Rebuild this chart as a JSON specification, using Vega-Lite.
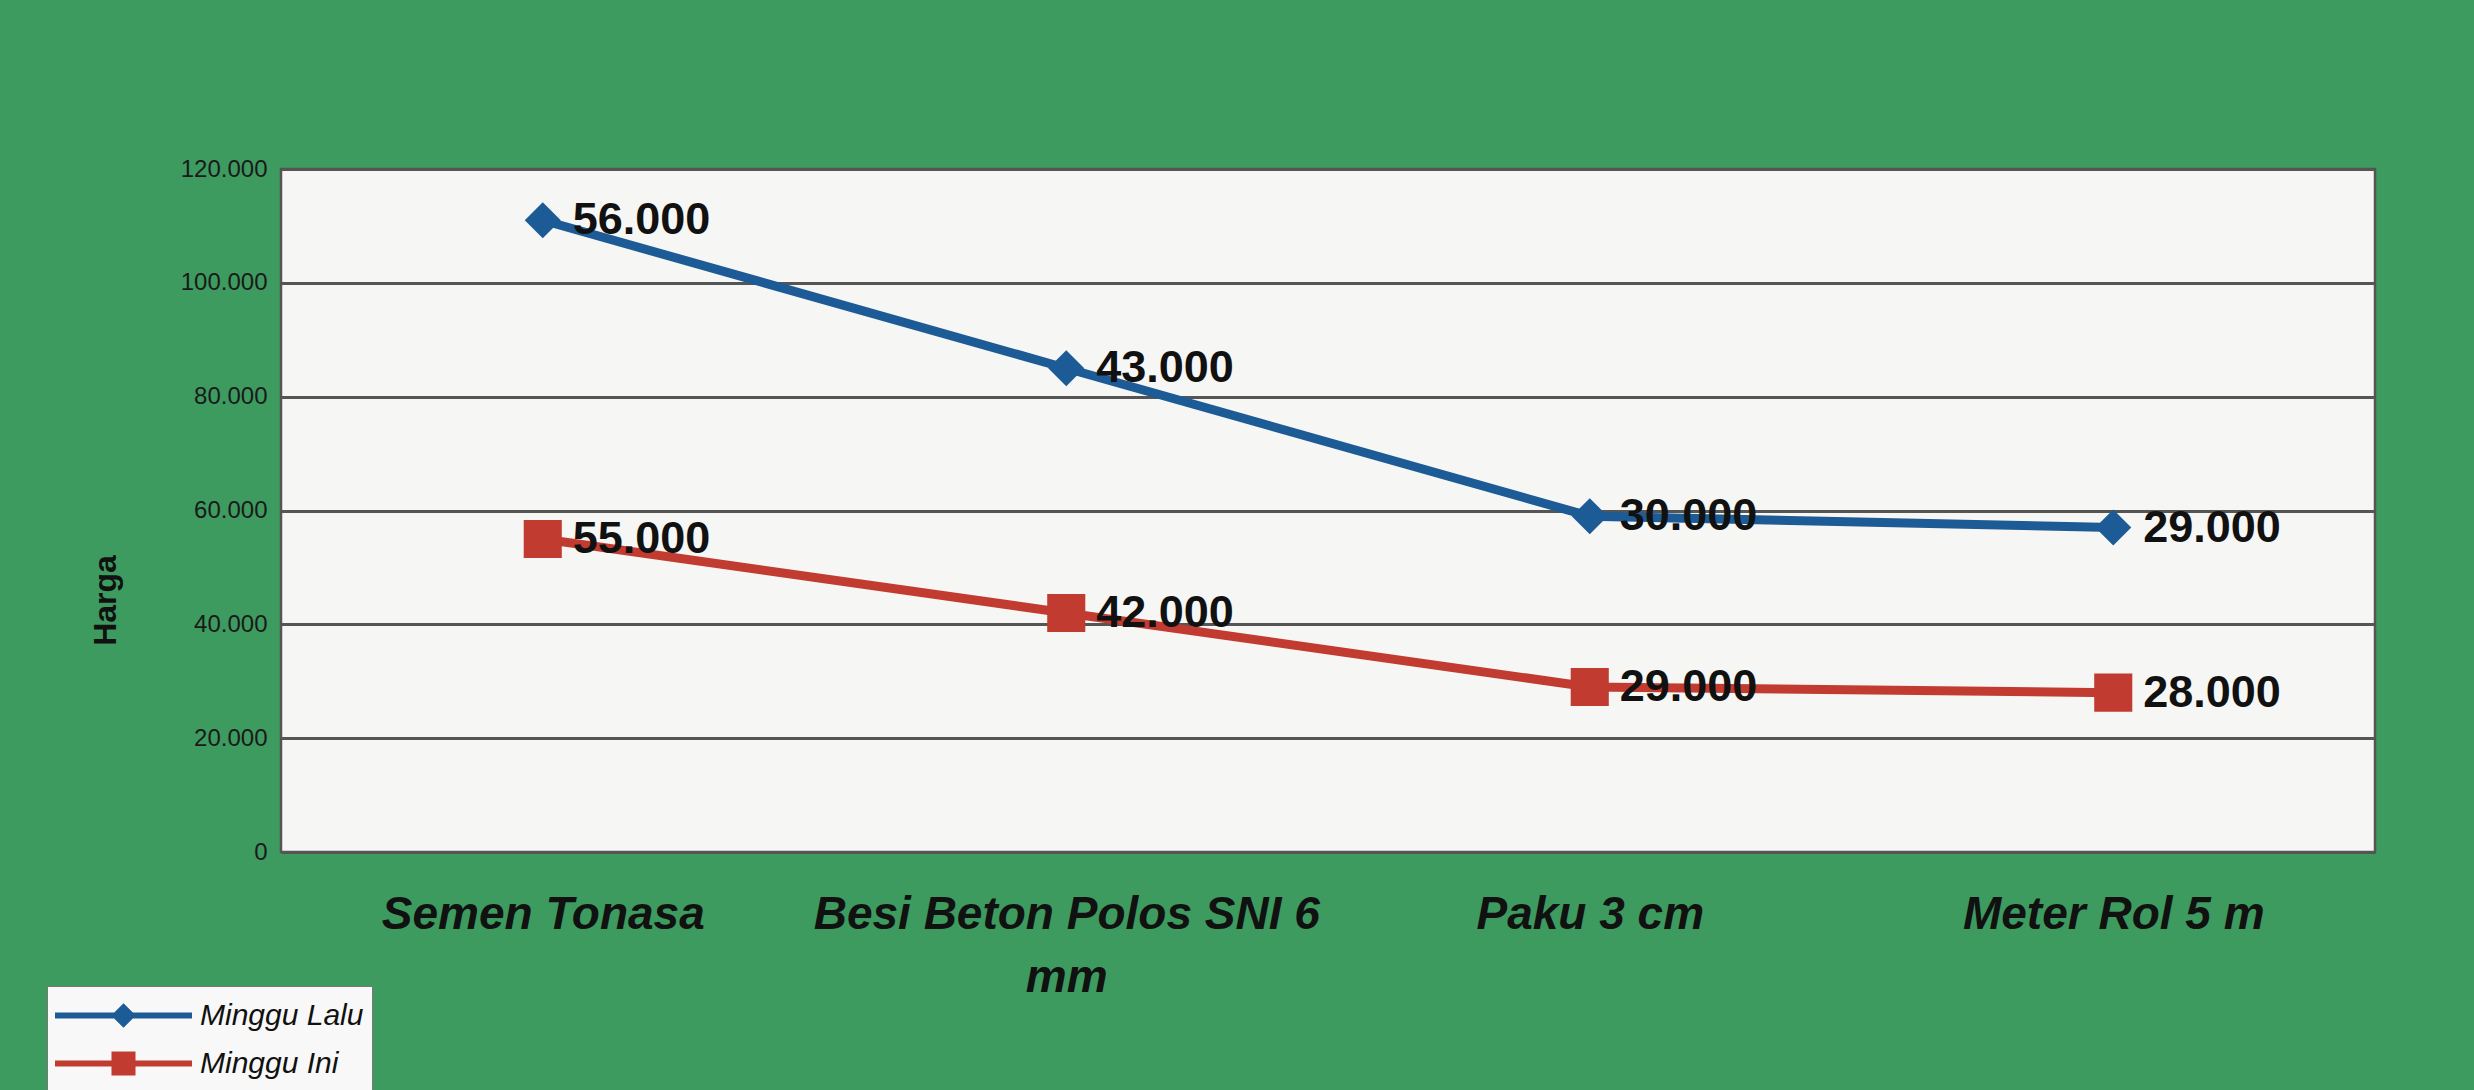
{
  "$schema": "https://vega.github.io/schema/vega-lite/v6.json",
  "width": 2094,
  "height": 683,
  "autosize": {"type": "none"},
  "padding": {"left": 281, "top": 169, "right": 99, "bottom": 238},
  "background": "#3d9b60",
  "config": {
    "locale": {"number": {"decimal": ",", "thousands": ".", "grouping": [3], "currency": ["Rp", ""]}},
    "view": {"fill": "#f6f6f4", "stroke": "#555555", "strokeWidth": 2.5},
    "font": "Liberation Sans"
  },
  "data": {
    "values": [
      {"item": "Semen Tonasa", "series": "Minggu Lalu", "value": 56000},
      {"item": "Semen Tonasa", "series": "Minggu Ini", "value": 55000},
      {"item": "Besi Beton Polos  SNI 6 mm", "series": "Minggu Lalu", "value": 43000},
      {"item": "Besi Beton Polos  SNI 6 mm", "series": "Minggu Ini", "value": 42000},
      {"item": "Paku 3 cm", "series": "Minggu Lalu", "value": 30000},
      {"item": "Paku 3 cm", "series": "Minggu Ini", "value": 29000},
      {"item": "Meter Rol 5 m", "series": "Minggu Lalu", "value": 29000},
      {"item": "Meter Rol 5 m", "series": "Minggu Ini", "value": 28000}
    ]
  },
  "transform": [
    {"stack": "value", "groupby": ["item"], "sort": [{"field": "series", "order": "ascending"}], "as": ["y0", "y1"]}
  ],
  "encoding": {
    "x": {
      "field": "item", "type": "nominal", "sort": null,
      "scale": {"type": "point", "padding": 0.5},
      "axis": {
        "title": null, "ticks": false, "domain": false, "grid": false,
        "labelAngle": 0, "labelFontSize": 46, "labelFontWeight": "bold", "labelFontStyle": "italic",
        "labelColor": "#111", "labelPadding": 40, "labelLineHeight": 63, "labelLimit": 1000, "labelOverlap": false,
        "labelExpr": "datum.value == 'Besi Beton Polos  SNI 6 mm' ? ['Besi Beton Polos  SNI 6', 'mm'] : datum.value"
      }
    },
    "y": {
      "field": "y1", "type": "quantitative",
      "scale": {"domain": [0, 120000], "nice": false},
      "axis": {
        "values": [0, 20000, 40000, 60000, 80000, 100000, 120000],
        "grid": true, "gridColor": "#555555", "gridWidth": 3,
        "ticks": false, "domain": false,
        "labelFontSize": 24, "labelColor": "#1a1a1a", "labelPadding": 14,
        "title": "Harga", "titleFontSize": 32, "titleFontWeight": "bold", "titleColor": "#111",
        "titleX": -159, "titleY": 431
      }
    },
    "color": {
      "field": "series", "type": "nominal",
      "scale": {"domain": ["Minggu Lalu", "Minggu Ini"], "range": ["#1c5b96", "#c23b30"]},
      "legend": {
        "orient": "none", "legendX": -234, "legendY": 817, "title": null,
        "fillColor": "#f8f8f8", "strokeColor": "#777", "padding": 8,
        "labelFont": "Liberation Sans", "labelFontStyle": "italic", "labelFontSize": 30, "labelColor": "#111",
        "labelLimit": 500,
        "symbolSize": 1300, "symbolOffset": 47, "labelOffset": 55, "rowPadding": 6,
        "encode": {
          "symbols": {
            "update": {
              "shape": {"signal": "datum.value == 'Minggu Lalu' ? 'M-3.8,0H3.8M-0.45,0L0,-0.45L0.45,0L0,0.45Z' : 'M-3.8,0H3.8M-0.5,-0.5H0.5V0.5H-0.5Z'"},
              "fill": {"scale": "color", "field": "value"},
              "stroke": {"scale": "color", "field": "value"},
              "strokeWidth": {"value": 6},
              "opacity": {"value": 1}
            }
          }
        }
      }
    }
  },
  "layer": [
    {"mark": {"type": "line", "strokeWidth": 9}},
    {
      "transform": [{"filter": "datum.series == 'Minggu Lalu'"}],
      "mark": {"type": "point", "filled": true, "opacity": 1, "shape": "diamond", "size": 1300}
    },
    {
      "transform": [{"filter": "datum.series == 'Minggu Ini'"}],
      "mark": {"type": "point", "filled": true, "opacity": 1, "shape": "square", "size": 1450}
    },
    {
      "mark": {"type": "text", "align": "left", "baseline": "middle", "dx": 30, "fontSize": 45, "fontWeight": "bold", "color": "#111"},
      "encoding": {
        "text": {"field": "value", "type": "quantitative", "format": ",d"},
        "color": {"value": "#111"}
      }
    }
  ]
}
